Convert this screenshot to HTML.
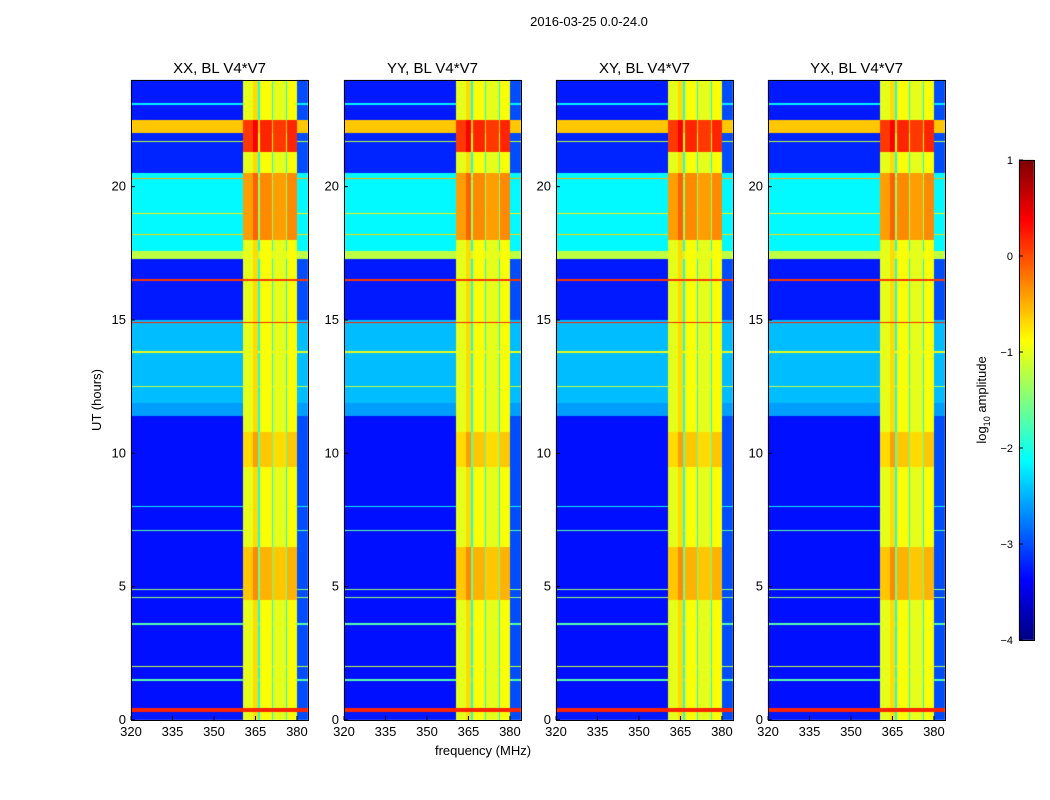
<!DOCTYPE html>
<html><head><meta charset="utf-8">
<style>
body{margin:0;background:#fff;width:1050px;height:800px;overflow:hidden;position:relative;font-family:"Liberation Sans",sans-serif}
canvas,svg{position:absolute;left:0;top:0}
</style></head>
<body>
<canvas id="cv" width="1050" height="800"></canvas>
<svg id="sv" width="1050" height="800"></svg>
<script>
// ---- data ----
const panelTitles = ["XX, BL V4*V7","YY, BL V4*V7","XY, BL V4*V7","YX, BL V4*V7"];
const panelLeft = [131,344,556,768];
const xTicks = [320,335,350,365,380];
const yTicks = [0,5,10,15,20];
const cbTicks = [1,0,-1,-2,-3,-4];
// time segments: [startHour, endHour, log10 level]
const timeSegStart = [0,0.3,0.45,11.4,11.9,15,17.3,17.6,20.5,22,22.5];
const timeSegEnd   = [0.3,0.45,11.4,11.9,15,17.3,17.6,20.5,22,22.5,24];
const timeSegLevel = [-3.25,0.2,-3.3,-2.6,-2.45,-3.25,-1.2,-2.15,-3.2,-0.6,-3.25];
// thin horizontal RFI lines
const lineHours  = [1.5,2.0,3.6,4.6,4.9,7.1,8.0,12.5,13.8,14.9,16.5,18.2,19.0,20.3,21.7,23.1];
const lineLevels = [-1.7,-1.2,-1.7,-1.4,-1.4,-1.7,-2.2,-1.2,-1.0,0.2,0.1,-0.7,-0.8,-0.5,-1.2,-2.2];
// frequency bands (MHz) in the RFI region
const bandStart = [360.5,364,366,366.5,371,371.5,376,376.5,380];
const bandEnd   = [364,366,366.5,371,371.5,376,376.5,380,384];
const bandLevel = [-1.0,-0.7,-2.0,-0.9,-2.0,-1.0,-2.0,-0.9,-3.0];
// time-dependent boost of RFI band
const boostStart = [4.5,9.5,18,21.3];
const boostEnd   = [6.5,10.8,20.5,22.5];
const boostLevel = [0.4,0.3,0.6,1.1];

// ---- geometry ----
const PW=177, TOP=80, BOT=720, F0=320, F1=384, T0=0, T1=24;
const xs=(p,f)=>panelLeft[p]+(f-F0)/(F1-F0)*PW;
const ys=t=>BOT-(t-T0)/(T1-T0)*(BOT-TOP);
function jet(v){
  const r=Math.min(Math.max(Math.min(4*v-1.5,-4*v+4.5),0),1);
  const g=Math.min(Math.max(Math.min(4*v-0.5,-4*v+3.5),0),1);
  const b=Math.min(Math.max(Math.min(4*v+0.5,-4*v+2.5),0),1);
  return [r*255,g*255,b*255];
}
function level(t,f){
  let v=-4;
  for(let i=0;i<timeSegStart.length;i++) if(t>=timeSegStart[i]&&t<timeSegEnd[i]) v=timeSegLevel[i];
  const dt=(T1-T0)/(BOT-TOP);
  for(let i=0;i<lineHours.length;i++) if(Math.abs(t-lineHours[i])<dt*0.8) v=Math.max(v,lineLevels[i]);
  let b=0;
  for(let i=0;i<boostStart.length;i++) if(t>=boostStart[i]&&t<boostEnd[i]) b=boostLevel[i];
  for(let i=0;i<bandStart.length;i++) if(f>=bandStart[i]&&f<bandEnd[i]) v=Math.max(v,bandLevel[i]+(i<8?b:0));
  return v;
}
const cv=document.getElementById('cv'),ctx=cv.getContext('2d');
ctx.fillStyle='#fff';ctx.fillRect(0,0,1050,800);
const H=BOT-TOP;
for(let p=0;p<4;p++){
  const img=ctx.createImageData(PW,H);
  for(let y=0;y<H;y++){
    const t=T1-(y+0.5)/H*(T1-T0);
    for(let x=0;x<PW;x++){
      const f=F0+(x+0.5)/PW*(F1-F0);
      const c=jet((level(t,f)+4)/5);
      const k=(y*PW+x)*4;
      img.data[k]=c[0];img.data[k+1]=c[1];img.data[k+2]=c[2];img.data[k+3]=255;
    }
  }
  ctx.putImageData(img,panelLeft[p],TOP);
}
for(let y=160;y<640;y++){const c=jet(1-(y-160)/480);ctx.fillStyle=`rgb(${c[0]|0},${c[1]|0},${c[2]|0})`;ctx.fillRect(1019,y,15,1);}

// ---- SVG overlay ----
const sv=document.getElementById('sv'),NS='http://www.w3.org/2000/svg';
function el(tag,attrs,txt){const e=document.createElementNS(NS,tag);for(const k in attrs)e.setAttribute(k,attrs[k]);if(txt!==undefined)e.textContent=txt;sv.appendChild(e);return e;}
let e=el('text',{x:589,y:26,'text-anchor':'middle','font-size':13},'2016-03-25 0.0-24.0');


for(let p=0;p<4;p++){
  const L=panelLeft[p];
  e=el('rect',{x:L+0.5,y:TOP+0.5,width:PW,height:H,fill:'none',stroke:'#000'});
  
  
  e=el('text',{x:L+PW/2,y:73,'text-anchor':'middle','font-size':15},panelTitles[p]);
  
  
  xTicks.forEach(f=>{const x=xs(p,f);
    el('line',{x1:x,x2:x,y1:BOT,y2:BOT-4,stroke:'#000'});
    e=el('text',{x:x,y:BOT+16,'text-anchor':'middle','font-size':13},f);
    
    
  });
  yTicks.forEach(t=>{const y=ys(t);
    el('line',{x1:L,x2:L+4,y1:y,y2:y,stroke:'#000'});
    e=el('text',{x:L-5,y:y+4,'text-anchor':'end','font-size':13},t);
    
    
  });
}
e=el('text',{x:483,y:755,'text-anchor':'middle','font-size':13},'frequency (MHz)');


e=el('text',{x:0,y:0,'text-anchor':'middle','font-size':13,transform:'translate(101,400) rotate(-90)'},'UT (hours)');


e=el('rect',{x:1019.5,y:160.5,width:15,height:480,fill:'none',stroke:'#000'});


cbTicks.forEach(v=>{const y=160+(1-v)/5*480;
  el('line',{x1:1019,x2:1023,y1:y,y2:y,stroke:'#000'});
  e=el('text',{x:1013,y:y+4,'text-anchor':'end','font-size':11},v<0?'\u2212'+(-v):v);
  
  
});
e=el('text',{x:0,y:0,'text-anchor':'middle','font-size':13,transform:'translate(986,400) rotate(-90)'});
e.innerHTML='log<tspan font-size="9" dy="4">10</tspan><tspan dy="-4"> amplitude</tspan>';


</script>
</body></html>
